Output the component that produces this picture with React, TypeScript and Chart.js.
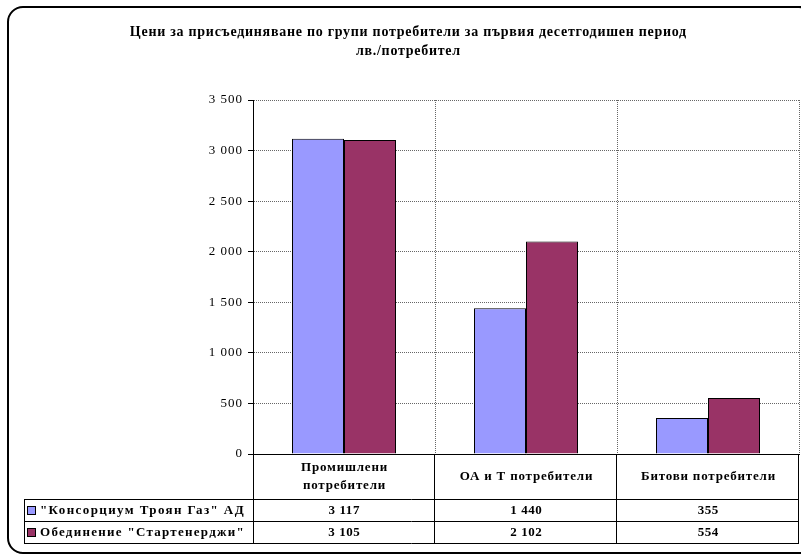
import React, { useEffect, useRef } from 'react';
import { Chart, registerables } from 'chart.js';

Chart.register(...registerables);

const titleLines = [
  'Цени за присъединяване по групи потребители за първия десетгодишен период',
  'лв./потребител',
];
const categories: string[][] = [['Промишлени', 'потребители'], ['ОА и Т потребители'], ['Битови потребители']];
const seriesNames = ['"Консорциум Троян Газ" АД', 'Обединение "Стартенерджи"'];
const troyanGas = [3117, 1440, 355];
const startEnergy = [3105, 2102, 554];
const seriesColors = ['#9999FF', '#993366'];
const yMin = 0;
const yMax = 3500;
const yStep = 500;

const fmt = (v: number) => String(v).replace(/\B(?=(\d{3})+(?!\d))/g, ' ');

const SERIF = '"Liberation Serif", "Times New Roman", serif';

const excelPlugin = {
  id: 'excelTable',
  beforeDraw(chart: any) {
    chart.ctx.letterSpacing = '1px';
  },
  afterDraw(chart: any) {
    const ctx: CanvasRenderingContext2D = chart.ctx;
    const xs = chart.scales.x;
    const area = chart.chartArea;
    const n = categories.length;
    const colW = (area.right - area.left) / n;
    const headerTop = area.bottom;
    const row1Top = 499;
    const row2Top = 521;
    const tableBottom = 543;
    const tableLeft = 24;
    ctx.save();
    (ctx as any).letterSpacing = '0px';

    // frame
    ctx.strokeStyle = '#000';
    ctx.lineWidth = 2;
    ctx.beginPath();
    (ctx as any).roundRect(8, 7, 806, 546, 15);
    ctx.stroke();

    // title
    ctx.fillStyle = '#000';
    ctx.font = 'bold 14px ' + SERIF;
    ctx.textAlign = 'center';
    ctx.textBaseline = 'middle';
    const w0 = ctx.measureText(titleLines[0]).width;
    const sp = Math.max(0, (557 - w0) / titleLines[0].length);
    (ctx as any).letterSpacing = sp + 'px';
    ctx.fillText(titleLines[0], 408 + sp / 2, 32);
    ctx.fillText(titleLines[1], 408 + sp / 2, 51);

    // table lines
    ctx.lineWidth = 1;
    ctx.strokeStyle = '#000';
    ctx.beginPath();
    const L = Math.round(area.left) + 0.5;
    const R = Math.round(area.right) - 0.5;
    ctx.moveTo(L, headerTop);
    ctx.lineTo(L, tableBottom);
    for (let i = 1; i <= n; i++) {
      const xx = Math.round(area.left + colW * i) - 0.5;
      ctx.moveTo(xx, headerTop);
      ctx.lineTo(xx, tableBottom);
    }
    [row1Top, row2Top, tableBottom].forEach((y) => {
      ctx.moveTo(tableLeft, y + 0.5);
      ctx.lineTo(R + 0.5, y + 0.5);
    });
    ctx.moveTo(tableLeft + 0.5, row1Top);
    ctx.lineTo(tableLeft + 0.5, tableBottom);
    ctx.stroke();

    // header labels
    ctx.font = 'bold 13px ' + SERIF;
    (ctx as any).letterSpacing = '0.8px';
    categories.forEach((lines, i) => {
      const cx = xs.getPixelForValue(i) + 0.5;
      const mid = (headerTop + row1Top) / 2;
      const lh = 18;
      lines.forEach((t, j) => {
        const y = mid + (j - (lines.length - 1) / 2) * lh;
        ctx.fillText(t, cx, y);
      });
    });

    // rows
    const rows = [troyanGas, startEnergy];
    const tops = [row1Top, row2Top, tableBottom];
    rows.forEach((vals, r) => {
      const cy = (tops[r] + tops[r + 1]) / 2 + 1;
      ctx.fillStyle = seriesColors[r];
      ctx.fillRect(27.5, Math.round(cy) - 4.5, 8, 8);
      ctx.strokeStyle = '#000';
      ctx.strokeRect(27.5, Math.round(cy) - 4.5, 8, 8);
      ctx.fillStyle = '#000';
      ctx.textAlign = 'left';
      (ctx as any).letterSpacing = '0px';
      const wn = ctx.measureText(seriesNames[r]).width;
      const spn = Math.max(0, (205 - wn) / seriesNames[r].length);
      (ctx as any).letterSpacing = spn + 'px';
      ctx.fillText(seriesNames[r], 40, cy);
      ctx.textAlign = 'center';
      (ctx as any).letterSpacing = '0.6px';
      vals.forEach((v, i) => {
        ctx.fillText(fmt(v), xs.getPixelForValue(i) + 0.3, cy);
      });
    });
    ctx.restore();
  },
};

export default function App() {
  const ref = useRef<HTMLCanvasElement | null>(null);
  useEffect(() => {
    if (!ref.current) return;
    const chart = new Chart(ref.current, {
      type: 'bar',
      data: {
        labels: categories.map((c) => c.join(' ')),
        datasets: [
          {
            label: seriesNames[0],
            data: troyanGas,
            backgroundColor: seriesColors[0],
            borderColor: '#000',
            borderWidth: 1,
          },
          {
            label: seriesNames[1],
            data: startEnergy,
            backgroundColor: seriesColors[1],
            borderColor: '#000',
            borderWidth: 1,
          },
        ],
      },
      options: {
        responsive: false,
        animation: false,
        layout: { padding: { left: 0, right: 2, top: 100, bottom: 0 } },
        datasets: { bar: { categoryPercentage: 2 / 3.5, barPercentage: 1 } },
        plugins: {
          legend: { display: false },
          tooltip: { enabled: false },
          title: { display: false },
        },
        scales: {
          x: {
            ticks: { display: false },
            grid: {
              offset: true,
              color: '#666',
              drawTicks: false,
            } as any,
            border: { display: true, color: '#000', width: 1, dash: [1, 1] },
            afterFit: (axis: any) => {
              axis.height = 100;
            },
          },
          y: {
            min: yMin,
            max: yMax,
            ticks: {
              stepSize: yStep,
              color: '#000',
              font: { family: SERIF, size: 13 },
              padding: 5,
              callback: (v: any) => fmt(Number(v)),
            },
            grid: {
              color: '#666',
              tickLength: 5,
              tickColor: '#000',
              tickBorderDash: [],
            } as any,
            border: { display: true, color: '#000', width: 1, dash: [1, 1] },
            afterFit: (axis: any) => {
              axis.width = 253;
            },
          },
        },
      },
      plugins: [excelPlugin],
    });
    return () => chart.destroy();
  }, []);
  return (
    <div style={{ position: 'absolute', left: 0, top: 0, width: 801, height: 554 }}>
      <canvas ref={ref} width={801} height={554} style={{ display: 'block', width: 801, height: 554 }} />
    </div>
  );
}
